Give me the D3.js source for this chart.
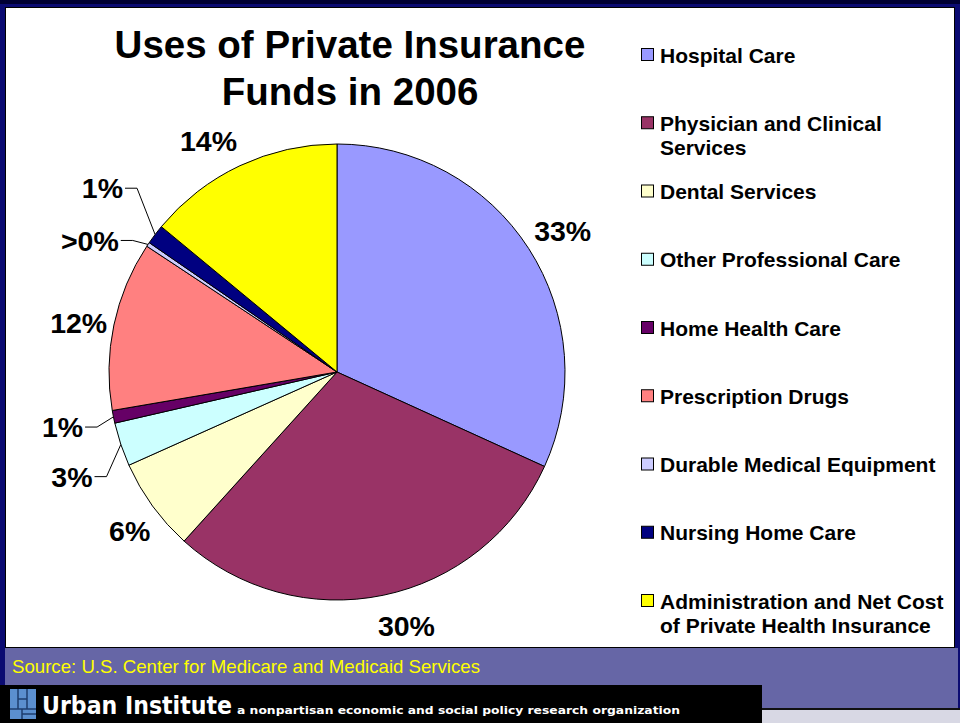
<!DOCTYPE html>
<html>
<head>
<meta charset="utf-8">
<script src="https://cdn.jsdelivr.net/npm/d3@7"></script>
<style>
html,body{margin:0;padding:0;background:#fff;}
svg{display:block;}
</style>
</head>
<body>
<svg id="chart" width="960" height="723"></svg>
<script>
// ---- data ----
const categories = [
  "Hospital Care",
  "Physician and Clinical Services",
  "Dental Services",
  "Other Professional Care",
  "Home Health Care",
  "Prescription Drugs",
  "Durable Medical Equipment",
  "Nursing Home Care",
  "Administration and Net Cost of Private Health Insurance"
];
const shares = [31.8, 29.9, 6.6, 3.1, 0.9, 12.0, 0.3, 1.4, 14.0];
const shareLabels = ["33%", "30%", "6%", "3%", "1%", "12%", ">0%", "1%", "14%"];
const colors = ["#9999ff", "#993366", "#ffffcc", "#ccffff", "#660066", "#ff8080", "#ccccff", "#000080", "#ffff00"];
const titleLines = ["Uses of Private Insurance", "Funds in 2006"];
const sourceText = "Source: U.S. Center for Medicare and Medicaid Services";
const brandName = "Urban Institute";
const brandTag = "a nonpartisan economic and social policy research organization";

// ---- layout (not data) ----
const leaderSlices = new Set([3, 4, 6, 7]);
const labelAngleNudge = {0: 0.8, 1: -3.6, 2: -1.4, 3: -3, 4: 0, 5: -1.1, 6: -6, 7: 1, 8: -3.8}; // degrees
const labelRadius = {0: 266, 1: 263, 2: 261, 3: 285, 4: 280, 5: 263, 6: 280, 7: 298, 8: 265};

const svg = d3.select("#chart");
const W = 960, H = 723;
const FONT = "Liberation Sans, Arial, sans-serif";

// frame / background
svg.append("rect").attr("x",0).attr("y",0).attr("width",W).attr("height",H).attr("fill","#0b0b72");
svg.append("rect").attr("x",0).attr("y",0).attr("width",W).attr("height",4).attr("fill","#000033");
svg.append("rect").attr("x",5).attr("y",648).attr("width",953).attr("height",60).attr("fill","#6666a6");
svg.append("rect").attr("x",762).attr("y",708).attr("width",198).attr("height",2).attr("fill","#111");
svg.append("rect").attr("x",762).attr("y",710).attr("width",198).attr("height",13).attr("fill","#d8d8e4");
svg.append("rect").attr("x",5.5).attr("y",7.5).attr("width",949).attr("height",640)
  .attr("fill","#ffffff").attr("stroke","#000").attr("stroke-width",1);

// title
const title = svg.append("text").attr("text-anchor","middle")
  .attr("font-family",FONT).attr("font-weight","bold")
  .attr("font-size",38.5).attr("fill","#000");
titleLines.forEach((t,i)=>{
  title.append("tspan").attr("x",350).attr("y",58 + i*47).text(t);
});

// pie
const cx = 337, cy = 372, R = 228;
const pie = d3.pie().sort(null).value(d=>d)(shares);
const arc = d3.arc().innerRadius(0).outerRadius(R);
const g = svg.append("g").attr("transform",`translate(${cx},${cy})`);
g.selectAll("path.slice").data(pie).enter().append("path")
  .attr("class","slice")
  .attr("d",arc)
  .attr("fill",(d,i)=>colors[i])
  .attr("stroke","#000").attr("stroke-width",1).attr("stroke-linejoin","round");

// labels
const labelSize = 28.5;
pie.forEach((d,i)=>{
  const mid = (d.startAngle + d.endAngle)/2;
  const a = mid + labelAngleNudge[i]*Math.PI/180;
  const rr = labelRadius[i];
  const x = rr*Math.sin(a), y = -rr*Math.cos(a);
  const t = g.append("text").attr("x",x).attr("y",y).attr("dy","0.36em")
    .attr("text-anchor","middle").attr("font-family",FONT)
    .attr("font-weight","bold").attr("font-size",labelSize).attr("fill","#000")
    .text(shareLabels[i]);
  if (leaderSlices.has(i)) {
    const w = t.node().getComputedTextLength();
    const ex = R*Math.sin(mid), ey = -R*Math.cos(mid);
    const right = x + w/2;
    g.append("path")
      .attr("d", d3.line()([[right+2, y],[right+14, y],[ex, ey]]))
      .attr("fill","none").attr("stroke","#000").attr("stroke-width",1);
  }
});

// legend
const legend = svg.append("g");
const legX = 641, legTextX = 660, legY0 = 55, legStep = 68.25, maxW = 292;
categories.forEach((c,i)=>{
  const y = legY0 + i*legStep;
  legend.append("rect").attr("x",legX+0.5).attr("y",y-6.5).attr("width",12).attr("height",12)
    .attr("fill",colors[i]).attr("stroke","#000").attr("stroke-width",1);
  const t = legend.append("text").attr("font-family",FONT)
    .attr("font-weight","bold").attr("font-size",21).attr("fill","#000");
  const words = c.split(" ");
  let line = [], lineNo = 0;
  let ts = t.append("tspan").attr("x",legTextX).attr("y",y).attr("dy","0.36em");
  words.forEach(wd=>{
    line.push(wd);
    ts.text(line.join(" "));
    if (ts.node().getComputedTextLength() > maxW && line.length > 1) {
      line.pop();
      ts.text(line.join(" "));
      line = [wd];
      lineNo++;
      ts = t.append("tspan").attr("x",legTextX).attr("y",y + lineNo*24.5).attr("dy","0.36em").text(wd);
    }
  });
});

// source
svg.append("text").attr("x",12).attr("y",673)
  .attr("font-family","Liberation Sans Narrow, Arial Narrow, Liberation Sans, sans-serif")
  .attr("font-size",19).attr("fill","#ffff00")
  .attr("textLength",468).attr("lengthAdjust","spacingAndGlyphs")
  .text(sourceText);

// brand bar
svg.append("rect").attr("x",0).attr("y",685).attr("width",762).attr("height",38).attr("fill","#000");
const logo = svg.append("g").attr("transform","translate(10,689)");
logo.append("rect").attr("x",0).attr("y",0).attr("width",26).attr("height",30).attr("fill","#5b8fcf");
[[8,0,8,20],[17,0,17,20],[0,20,26,20],[8,10,17,10],[12,25,26,25],[12,20,12,30]].forEach(l=>{
  logo.append("line").attr("x1",l[0]).attr("y1",l[1]).attr("x2",l[2]).attr("y2",l[3])
    .attr("stroke","#1d3c6e").attr("stroke-width",1.5);
});
svg.append("text").attr("x",42).attr("y",714)
  .attr("font-family","DejaVu Sans, sans-serif").attr("font-weight","bold")
  .attr("font-size",24).attr("fill","#fff")
  .attr("textLength",190).attr("lengthAdjust","spacingAndGlyphs")
  .text(brandName);
svg.append("text").attr("x",237).attr("y",714)
  .attr("font-family","DejaVu Sans, sans-serif").attr("font-weight","bold")
  .attr("font-size",11).attr("fill","#fff")
  .attr("textLength",443).attr("lengthAdjust","spacingAndGlyphs")
  .text(brandTag);
</script>
</body>
</html>
